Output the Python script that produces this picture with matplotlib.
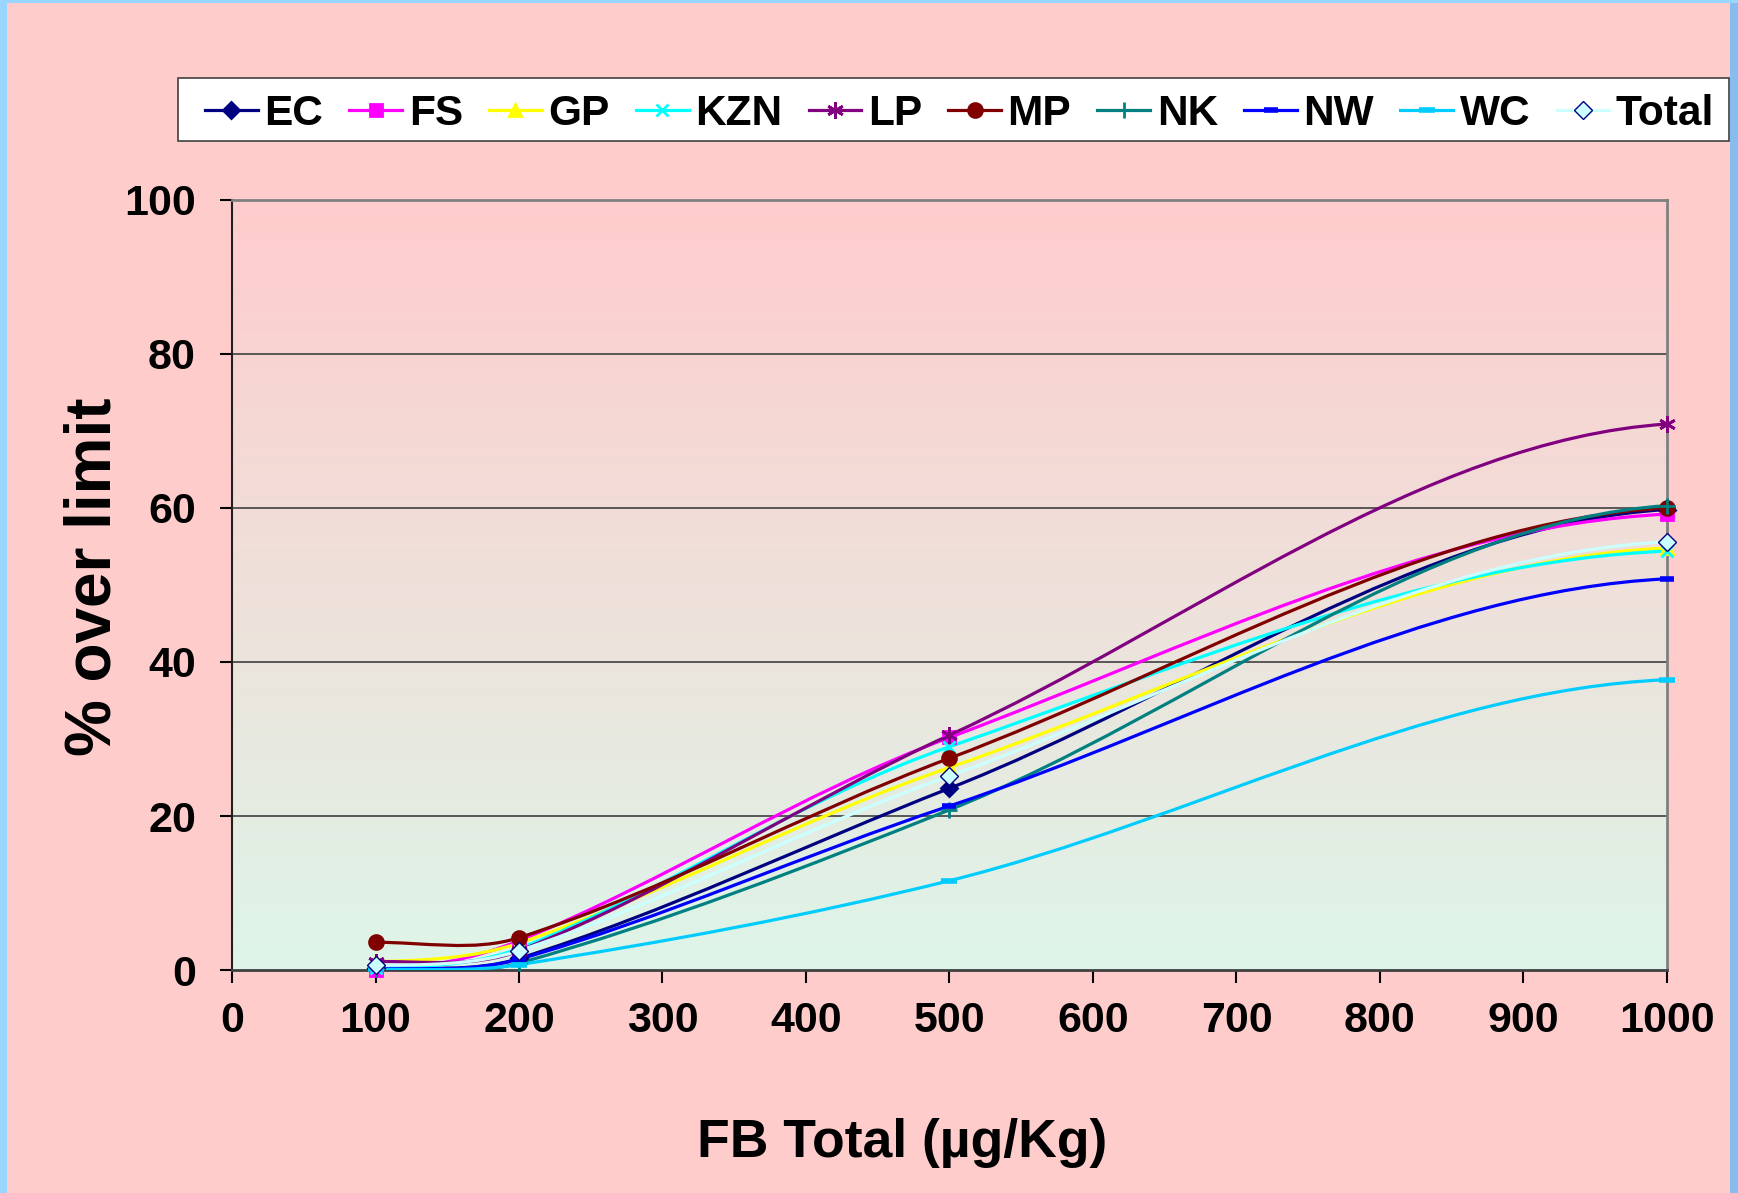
import matplotlib.pyplot as plt
import numpy as np
from matplotlib.path import Path
from matplotlib.patches import PathPatch, Rectangle
from matplotlib.lines import Line2D

plt.rcParams['font.family'] = ['Liberation Sans', 'DejaVu Sans']
plt.rcParams['font.weight'] = 'bold'

fb_levels = [100, 200, 500, 1000]

ec = [0.3, 1.5, 23.6, 59.8]
fs = [0.0, 3.8, 30.2, 59.2]
gp = [1.1, 3.5, 26.3, 54.8]
kzn = [0.3, 2.8, 29.0, 54.4]
lp = [1.1, 2.5, 30.5, 70.9]
mp = [3.6, 4.2, 27.5, 60.0]
nk = [0.1, 0.9, 20.8, 60.3]
nw = [0.2, 1.4, 21.3, 50.8]
wc = [0.1, 0.7, 11.6, 37.7]
total = [0.6, 2.5, 25.2, 55.6]

names = ['EC', 'FS', 'GP', 'KZN', 'LP', 'MP', 'NK', 'NW', 'WC', 'Total']
values = [ec, fs, gp, kzn, lp, mp, nk, nw, wc, total]
colors = ['#000080', '#FF00FF', '#FFFF00', '#00FFFF', '#800080',
          '#800000', '#008080', '#0000FF', '#00CCFF', '#CCFFFF']
markers = ['D', 's', '^', 'x', (6, 2, 0), 'o', '+', '_', '_', 'D']
msizes = [8, 9, 9, 9, 12, 10, 12, 10, 12, 9]


def smooth_path(ax, xs, ys, k=0.3):
    # smoothed line like the spreadsheet one: cubic Beziers, tangent through
    # the neighbours, arm lengths split by on-screen chord lengths
    pts = np.column_stack([xs, ys]).astype(float)
    first = [2 * pts[0, 0] - pts[1, 0], pts[1, 1] + k * (pts[0, 1] - pts[1, 1])]
    last = [2 * pts[-1, 0] - pts[-2, 0], pts[-2, 1] + k * (pts[-1, 1] - pts[-2, 1])]
    ext = np.vstack([first, pts, last])
    scr = ax.transData.transform(ext)
    d = np.hypot(*np.diff(scr, axis=0).T)
    verts = [pts[0]]
    codes = [Path.MOVETO]
    for j in range(1, len(ext) - 2):
        c1 = ext[j] + (ext[j + 1] - ext[j - 1]) * d[j] / (d[j - 1] + d[j]) / 3.0
        c2 = ext[j + 1] - (ext[j + 2] - ext[j]) * d[j] / (d[j] + d[j + 1]) / 3.0
        verts += [c1, c2, ext[j + 1]]
        codes += [Path.CURVE4] * 3
    return Path(verts, codes)


fig = plt.figure(figsize=(17.38, 11.93), dpi=100, facecolor='#FFCCCC')
ax = fig.add_axes([0.1335, 0.1869, 0.8256, 0.6455])
ax.set_xlim(0, 1000)
ax.set_ylim(0, 100)

# gradient plot area, pink on top fading to pale green
grad = np.linspace(0, 1, 256)[:, None]
top_c = np.array([1.0, 0.80, 0.80])
bot_c = np.array([0.87, 0.96, 0.91])
img = top_c[None, None, :] * (1 - grad[:, :, None]) + bot_c[None, None, :] * grad[:, :, None]
ax.imshow(img, extent=[0, 1000, 0, 100], aspect='auto', zorder=0)

for v in [20, 40, 60, 80]:
    ax.axhline(v, color='#404040', linewidth=1.2, zorder=1)

handles = []
for name, vals, c, m, ms in zip(names, values, colors, markers, msizes):
    patch = PathPatch(smooth_path(ax, fb_levels, vals), fill=False, edgecolor=c,
                      linewidth=2.3, zorder=3)
    ax.add_patch(patch)
    mec = '#000080' if name == 'Total' else c
    mew = 1.0 if name == 'Total' else 2.0
    if m == '_':
        mew = 4
    ax.plot(fb_levels, vals, linestyle='none', marker=m, markersize=ms,
            color=c, markeredgecolor=mec, markeredgewidth=mew, zorder=4,
            clip_on=False)
    handles.append(Line2D([], [], color=c, linewidth=2.3, marker=m,
                          markersize=ms, markeredgecolor=mec,
                          markeredgewidth=mew))

ax.set_xlim(0, 1000)
ax.set_ylim(0, 100)
ax.set_xticks(np.arange(0, 1001, 100))
ax.set_yticks(np.arange(0, 101, 20))
ax.tick_params(axis='both', direction='out', length=9, width=1.5, labelsize=31)
ax.tick_params(axis='y', pad=17)
ax.tick_params(axis='x', pad=13)
for lab in ax.get_xticklabels() + ax.get_yticklabels():
    lab.set_fontweight('bold')

ax.spines['top'].set_color('#808080')
ax.spines['right'].set_color('#808080')
ax.spines['top'].set_linewidth(2)
ax.spines['right'].set_linewidth(2)
ax.spines['left'].set_color('#202020')
ax.spines['bottom'].set_color('#404040')
ax.spines['left'].set_linewidth(1.5)
ax.spines['bottom'].set_linewidth(2)

fig.text(0.519, 1 - 1143 / 1193, 'FB Total (\u00b5g/Kg)', fontsize=38.5,
         fontweight='bold', ha='center', va='center')
fig.text(94 / 1738, 1 - 577 / 1193, '% over limit', fontsize=46,
         fontweight='bold', ha='center', va='center', rotation=90)

# legend box drawn by hand, entries placed inside it
fig.patches.append(Rectangle((178 / 1738, 1 - 141 / 1193), 1551 / 1738, 63 / 1193,
                             transform=fig.transFigure, facecolor='white',
                             edgecolor='#404040', linewidth=1.2, zorder=5))
leg = fig.legend(handles, names, loc='center left',
                 bbox_to_anchor=(205 / 1738, 1 - 114 / 1193), ncol=10,
                 fontsize=30.5, frameon=False, handlelength=1.25,
                 handletextpad=0.15, columnspacing=0.62, borderpad=0,
                 borderaxespad=0)
leg.set_zorder(6)
for t in leg.get_texts():
    t.set_fontweight('bold')

# light blue frame around the chart
fig.patches.append(Rectangle((0, 0), 7 / 1738, 1, transform=fig.transFigure,
                             facecolor='#99D6FF', edgecolor='none'))
fig.patches.append(Rectangle((1730 / 1738, 0), 8 / 1738, 1, transform=fig.transFigure,
                             facecolor='#88BBEE', edgecolor='none'))
fig.patches.append(Rectangle((0, 1 - 3 / 1193), 1, 3 / 1193, transform=fig.transFigure,
                             facecolor='#99D6FF', edgecolor='none'))

fig.savefig('out.png', dpi=100, facecolor=fig.get_facecolor())
